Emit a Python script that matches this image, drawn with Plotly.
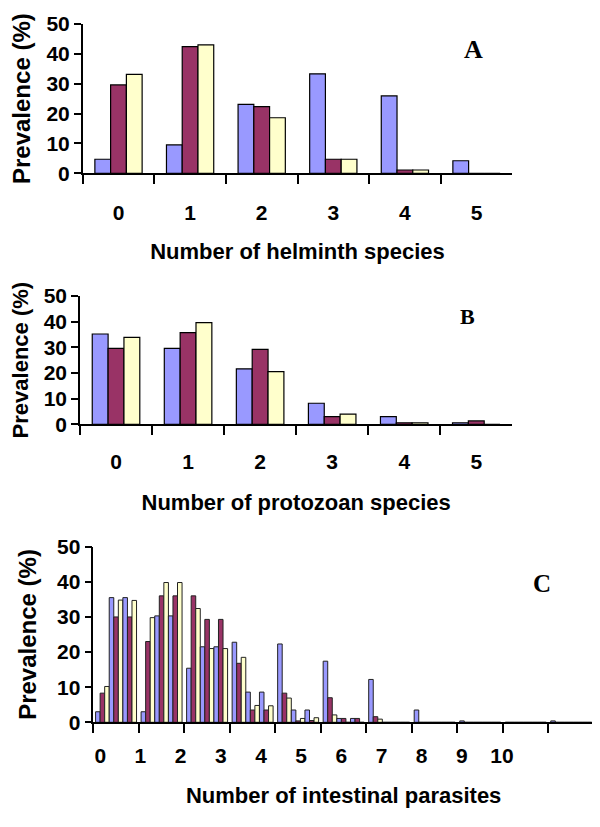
import plotly.graph_objects as go

# ---------------- data ----------------
cats_A = ["0", "1", "2", "3", "4", "5"]
A_blue = [4.7, 9.5, 23.1, 33.3, 25.9, 4.2]
A_maroon = [29.6, 42.4, 22.3, 4.7, 1.1, 0]
A_yellow = [33.1, 43.0, 18.6, 4.7, 1.1, 0]

cats_B = ["0", "1", "2", "3", "4", "5"]
B_blue = [35.2, 29.6, 21.6, 8.2, 3.0, 0.6]
B_maroon = [29.6, 35.7, 29.2, 3.0, 0.6, 1.3]
B_yellow = [33.9, 39.6, 20.5, 4.0, 0.6, 0]

cats_C = list(range(11))
C1_blue = [3.0, 3.0, 15.4, 22.8, 22.3, 17.4, 12.2, 3.5, 0.4, 0, 0.4]
C1_maroon = [8.3, 23.0, 36.0, 16.8, 8.3, 7.0, 1.6, 0, 0, 0, 0]
C1_yellow = [10.2, 29.8, 32.4, 18.5, 6.9, 2.1, 0.9, 0, 0, 0, 0]
C2_blue = [35.5, 30.3, 21.5, 8.6, 3.5, 1.1, 0, 0, 0, 0, 0]
C2_maroon = [30.0, 36.0, 29.3, 3.5, 0.4, 1.1, 0, 0, 0, 0, 0]
C2_yellow = [34.8, 39.8, 21.0, 4.8, 1.1, 0, 0, 0, 0, 0, 0]
C3_blue = [35.5, 30.3, 21.5, 8.6, 3.5, 1.1, 0, 0, 0, 0, 0]
C3_maroon = [30.0, 36.0, 29.3, 3.5, 0.5, 1.1, 0, 0, 0, 0, 0]
C3_yellow = [34.7, 39.8, 21.0, 4.7, 1.3, 0, 0, 0, 0, 0, 0]
C_tick_labels = [str(i) for i in range(11)]

# ---------------- style ----------------
BLUE = "#9999FF"
MAROON = "#993366"
YELLOW = "#FFFFCC"
SANS = "Liberation Sans, Arial, sans-serif"
SERIF = "Liberation Serif, Times New Roman, serif"

# page body has an 8px margin: the figure is drawn 8px in from the top-left
OFF = 8
FW, FH = 600 - OFF, 827 - OFF

def fx(px):
    return (px - OFF) / FW

def fy(py):
    return 1 - (py - OFF) / FH

fig = go.Figure()

def add_group(x, series, xa, ya):
    for vals, col in series:
        fig.add_trace(go.Bar(
            x=x, y=vals, xaxis=xa, yaxis=ya,
            marker=dict(color=col, line=dict(color="black", width=1.2)),
            showlegend=False))

add_group(cats_A, [(A_blue, BLUE), (A_maroon, MAROON), (A_yellow, YELLOW)], "x", "y")
add_group(cats_B, [(B_blue, BLUE), (B_maroon, MAROON), (B_yellow, YELLOW)], "x2", "y2")

C_series = [(C1_blue, BLUE), (C1_maroon, MAROON), (C1_yellow, YELLOW),
            (C2_blue, BLUE), (C2_maroon, MAROON), (C2_yellow, YELLOW),
            (C3_blue, BLUE), (C3_maroon, MAROON), (C3_yellow, YELLOW)]
n = len(C_series)
w = 0.9 / n
for j, (vals, col) in enumerate(C_series):
    fig.add_trace(go.Bar(
        x=cats_C, y=vals, xaxis="x3", yaxis="y3",
        width=w, offset=-0.45 + j * w,
        marker=dict(color=col, line=dict(color="#222222", width=1.0)),
        showlegend=False))
# invisible trace to attach the label axis of panel C
fig.add_trace(go.Scatter(x=[None], y=[None], xaxis="x4", yaxis="y3",
                         mode="markers", showlegend=False, hoverinfo="skip"))

tickfont = dict(family=SANS, size=21, color="black", weight="bold")
titlefont = dict(family=SANS, size=22, color="black", weight="bold")

def yax(domain, anchor, tsize=21, tfs=22):
    return dict(domain=domain, anchor=anchor, range=[0, 50], dtick=10,
                ticks="outside", ticklen=7, tickwidth=1.5, tickcolor="black",
                showline=True, linecolor="black", linewidth=1.5,
                showgrid=False, zeroline=False, automargin=False,
                tickfont=dict(tickfont, size=tsize),
                title=dict(text="Prevalence (%)", font=dict(titlefont, size=tfs), standoff=14))

def xcat(domain, anchor, title, standoff_lbl, title_standoff, tsize=21):
    return dict(domain=domain, anchor=anchor, type="category",
                tickson="boundaries", ticks="outside", ticklen=9, tickwidth=1.5,
                tickcolor="black", showline=True, linecolor="black", linewidth=1.5,
                showgrid=False, zeroline=False, automargin=False,
                tickfont=dict(tickfont, size=tsize), ticklabelstandoff=standoff_lbl,
                title=dict(text=title, font=titlefont, standoff=title_standoff))

fig.update_layout(
    template="none",
    width=FW, height=FH,
    margin=dict(l=0, r=0, t=0, b=0, autoexpand=False),
    paper_bgcolor="white", plot_bgcolor="white",
    barmode="group", bargap=0.34, bargroupgap=0,
    xaxis=xcat([fx(82.7), fx(512.3)], "y", "Number of helminth species", 20, 20),
    yaxis=yax([fy(173.3), fy(24)], "x", tfs=24),
    xaxis2=xcat([fx(80), fx(512.3)], "y2", "Number of protozoan species", 18, 22),
    yaxis2=yax([fy(424.3), fy(296)], "x2", tsize=21, tfs=22),
    xaxis3=dict(domain=[fx(93.3), fx(594)], anchor="y3", type="linear",
                range=[-0.5, 10.5], tickmode="array",
                tickvals=[i - 0.5 for i in range(12)],
                ticks="outside", ticklen=9, tickwidth=1.5,
                tickcolor="black", showline=True, linecolor="black", linewidth=1.5,
                showgrid=False, zeroline=False, showticklabels=False, automargin=False),
    xaxis4=dict(overlaying="x3", anchor="y3", side="bottom", type="linear",
                range=[-0.174, 12.29], tickmode="array", tickvals=list(range(11)),
                ticktext=C_tick_labels, ticks="", showline=False,
                showgrid=False, zeroline=False, automargin=False,
                tickfont=tickfont, ticklabelstandoff=19,
                title=dict(text="Number of intestinal parasites", font=titlefont, standoff=21)),
    yaxis3=yax([fy(722.3), fy(546.7)], "x3", tfs=24),
    annotations=[
        dict(text="A", x=fx(473), y=fy(49), xref="paper", yref="paper",
             xanchor="center", yanchor="middle", showarrow=False,
             font=dict(family=SERIF, size=26, color="black", weight="bold")),
        dict(text="B", x=fx(467), y=fy(316), xref="paper", yref="paper",
             xanchor="center", yanchor="middle", showarrow=False,
             font=dict(family=SERIF, size=22, color="black", weight="bold")),
        dict(text="C", x=fx(542), y=fy(583), xref="paper", yref="paper",
             xanchor="center", yanchor="middle", showarrow=False,
             font=dict(family=SERIF, size=25, color="black", weight="bold")),
    ],
)

fig.write_html("out.html")
